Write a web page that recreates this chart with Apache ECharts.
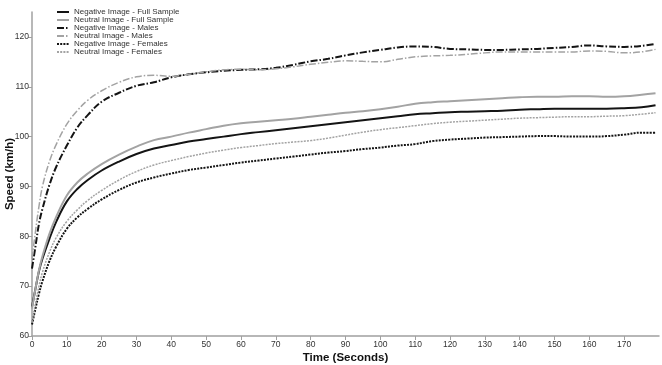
<!DOCTYPE html>
<html>
<head>
<meta charset="utf-8">
<script src="https://cdn.jsdelivr.net/npm/echarts@6/dist/echarts.min.js"></script>
<style>
  html, body { margin: 0; padding: 0; background: #fff; }
  #chart { width: 662px; height: 365px; }
</style>
</head>
<body>
<div id="chart"></div>
<script>
// time points (seconds)
const times = [0, 1, 2, 3, 5, 7, 10, 13, 16, 20, 25, 30, 35, 40, 45, 50, 55, 60, 65, 70, 75, 80, 85, 90,
  95, 100, 105, 110, 115, 120, 125, 130, 135, 140, 145, 150, 155, 160, 165, 170, 175, 179];

// speed (km/h) per series, one value per time point
const negFull = [65.9, 69.5, 73, 75.5, 79.5, 83, 87, 89.5, 91.3, 93.2, 95, 96.5, 97.6, 98.3, 99.0, 99.5, 100.0, 100.5,
  100.9, 101.3, 101.7, 102.1, 102.5, 102.9, 103.3, 103.7, 104.1, 104.5, 104.7, 104.9, 105.0, 105.1, 105.2,
  105.4, 105.5, 105.6, 105.6, 105.6, 105.6, 105.7, 105.9, 106.3];
const neuFull = [65.5, 69.5, 73.2, 76, 80.5, 84, 88.2, 90.8, 92.6, 94.5, 96.4, 98.0, 99.3, 100.0, 100.8, 101.5, 102.2,
  102.7, 103.0, 103.3, 103.6, 104.0, 104.4, 104.8, 105.1, 105.5, 106.0, 106.6, 106.9, 107.1, 107.3, 107.5,
  107.7, 107.9, 108.0, 108.0, 108.1, 108.1, 108.0, 108.1, 108.4, 108.7];
const negMales = [73.5, 78, 82.5, 85.5, 90.3, 94, 98.2, 101.8, 104.3, 107, 108.8, 110.2, 110.9, 111.9, 112.5, 112.9,
  113.2, 113.4, 113.5, 113.8, 114.4, 115.1, 115.6, 116.3, 116.9, 117.4, 117.9, 118.1, 118.0, 117.6, 117.5,
  117.4, 117.4, 117.5, 117.6, 117.8, 118.0, 118.3, 118.1, 118.0, 118.2, 118.6];
const neuMales = [75.5, 81, 86, 90, 95, 98.5, 102.5, 105.2, 107.3, 109.2, 110.9, 112.0, 112.3, 112.1, 112.5, 113.0,
  113.4, 113.5, 113.4, 113.6, 114.0, 114.5, 114.9, 115.2, 115.1, 115.0, 115.5, 116.0, 116.2, 116.3, 116.5,
  116.8, 117.0, 117.0, 117.0, 117.0, 117.0, 117.2, 117.1, 116.8, 117.0, 117.5];
const negFemales = [62.3, 65.5, 68.5, 71, 75, 78, 81.5, 83.8, 85.5, 87.4, 89.3, 90.8, 91.8, 92.6, 93.3, 93.8, 94.3,
  94.8, 95.2, 95.6, 96.0, 96.4, 96.8, 97.1, 97.5, 97.8, 98.2, 98.5, 99.1, 99.4, 99.6, 99.8, 99.9, 100.0,
  100.1, 100.1, 100.0, 100.0, 100.1, 100.4, 100.8, 100.8];
const neuFemales = [62.8, 66.5, 70, 72.8, 76.8, 79.8, 83, 85.3, 87.2, 89.2, 91.3, 93.0, 94.3, 95.2, 96.0, 96.7, 97.3,
  97.8, 98.2, 98.6, 98.9, 99.2, 99.7, 100.3, 100.9, 101.4, 101.8, 102.2, 102.6, 102.9, 103.1, 103.3, 103.5,
  103.7, 103.8, 103.9, 104.0, 104.0, 104.1, 104.2, 104.5, 104.8];

const xTicks = [0, 10, 20, 30, 40, 50, 60, 70, 80, 90, 100, 110, 120, 130, 140, 150, 160, 170];
const yTicks = [60, 70, 80, 90, 100, 110, 120];

const BLACK = '#141414';
const GRAY = '#a3a3a3';

function pairs(vals) {
  return times.map((t, i) => [t, vals[i]]);
}

function line(name, vals, color, width, type) {
  return {
    name: name,
    type: 'line',
    data: pairs(vals),
    smooth: 0.4,
    symbol: 'none',
    lineStyle: { color: color, width: width, type: type },
    itemStyle: { color: color },
    emphasis: { disabled: true }
  };
}

const chart = echarts.init(document.getElementById('chart'));
chart.setOption({
  animation: false,
  textStyle: { fontFamily: 'Liberation Sans, Arial, sans-serif' },
  grid: { left: 32, right: 3, top: 12, bottom: 29, outerBoundsMode: 'none', containLabel: false },
  legend: {
    orient: 'vertical',
    left: 56,
    top: 8,
    padding: 0,
    itemWidth: 12,
    itemHeight: 6,
    itemGap: 0,
    itemStyle: { opacity: 0 },
    textStyle: { fontSize: 8, lineHeight: 8, color: '#333' },
    data: ['Negative Image - Full Sample', 'Neutral Image - Full Sample', 'Negative Image - Males',
      'Neutral Image - Males', 'Negative Image - Females', 'Neutral Image - Females']
  },
  xAxis: {
    type: 'value',
    min: 0,
    max: 180,
    interval: 10,
    name: 'Time (Seconds)',
    nameLocation: 'middle',
    nameGap: 16,
    nameMoveOverlap: false,
    nameTextStyle: { fontSize: 11.5, fontWeight: 'bold', color: '#111', verticalAlign: 'top' },
    axisLine: { lineStyle: { color: '#a0a0a0', width: 1.5 } },
    axisTick: { length: 4, lineStyle: { color: '#a0a0a0' }, customValues: xTicks },
    axisLabel: { fontSize: 8.5, color: '#333', margin: 4, customValues: xTicks },
    splitLine: { show: false }
  },
  yAxis: {
    type: 'value',
    min: 60,
    max: 125,
    interval: 10,
    name: 'Speed (km/h)',
    nameLocation: 'middle',
    nameGap: 16,
    nameMoveOverlap: false,
    nameTextStyle: { fontSize: 11.5, fontWeight: 'bold', color: '#111' },
    axisLine: { show: true, lineStyle: { color: '#a0a0a0', width: 1.5 } },
    axisTick: { show: true, length: 4, lineStyle: { color: '#a0a0a0' }, customValues: yTicks },
    axisLabel: { fontSize: 8.5, color: '#333', margin: 3, customValues: yTicks },
    splitLine: { show: false }
  },
  series: [
    line('Negative Image - Full Sample', negFull, BLACK, 2, 'solid'),
    line('Neutral Image - Full Sample', neuFull, GRAY, 2, 'solid'),
    line('Negative Image - Males', negMales, BLACK, 2, [7, 2, 1.5, 2]),
    line('Neutral Image - Males', neuMales, GRAY, 1.5, [7, 2, 1.5, 2]),
    line('Negative Image - Females', negFemales, BLACK, 2, [2, 1.2]),
    line('Neutral Image - Females', neuFemales, GRAY, 1.5, [2, 1.2])
  ]
});
</script>
</body>
</html>
